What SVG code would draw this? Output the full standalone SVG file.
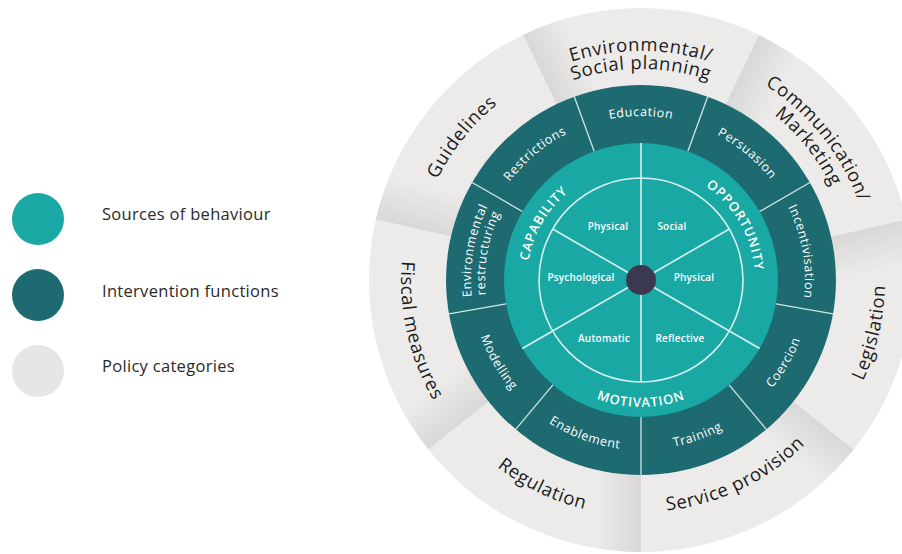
<svg xmlns="http://www.w3.org/2000/svg" xmlns:xlink="http://www.w3.org/1999/xlink" width="902" height="554" viewBox="0 0 902 554">
<style>
  .pol{font-family:"Open Sans","Liberation Sans",sans-serif;font-size:18.5px;font-weight:500;fill:#1c1c1c;letter-spacing:0.6px}
  .fn{font-family:"Open Sans","Liberation Sans",sans-serif;font-size:12.5px;font-weight:500;fill:#ffffff;letter-spacing:0.6px}
  .src{font-family:"Open Sans","Liberation Sans",sans-serif;font-size:13px;font-weight:600;fill:#ffffff;letter-spacing:0.9px}
  .sub{font-family:"Open Sans","Liberation Sans",sans-serif;font-size:10px;font-weight:600;fill:#ffffff;text-anchor:middle;letter-spacing:0.2px}
  .leg{font-family:"Open Sans","Liberation Sans",sans-serif;font-size:16.5px;font-weight:500;fill:#2a2a2a;letter-spacing:0.3px}
  .div{stroke:#cfe6e6;stroke-width:1.3;fill:none}
  .spk{stroke:#d8f0ef;stroke-width:1.6;fill:none}
</style>
<defs>
  <linearGradient id="shade" gradientUnits="userSpaceOnUse" x1="539.9" y1="70.1" x2="580" y2="50.8">
    <stop offset="0" stop-color="#d9d8d6"/>
    <stop offset="1" stop-color="#ecebe9"/>
  </linearGradient>
  <path id="pseg" d="M522.98,34.94 A272,272 0 0 1 759.02,34.94 L725.61,104.31 A195,195 0 0 0 556.39,104.31 Z" fill="url(#shade)"/>
  <path id="aEnv1" d="M465.58,132.8 A229,229 0 0 1 816.42,132.8"/>
  <path id="aEnv2" d="M479.37,144.37 A211,211 0 0 1 802.63,144.37"/>
  <path id="aCom1" d="M646.77,49.07 A231,231 0 0 1 867.42,325.77"/>
  <path id="aCom2" d="M646.29,68.07 A212,212 0 0 1 848.80,322.01"/>
  <path id="aGui" d="M418.5,324.98 A227,227 0 0 1 635.33,53.07"/>
  <path id="aLeg" d="M752.28,497.15 A244,244 0 0 0 835.51,132.68"/>
  <path id="aSer" d="M545.55,491.46 A232,232 0 0 0 865.82,337.26"/>
  <path id="aReg" d="M412.3,338.25 A236,236 0 0 0 738.09,495.1"/>
  <path id="aFis" d="M449.68,135.1 A240,240 0 0 0 531.54,493.59"/>
  <path id="aEdu" d="M546.93,145.66 A164,164 0 0 1 735.07,145.66"/>
  <path id="aPer" d="M655.29,116.62 A164,164 0 0 1 799.41,237.55"/>
  <path id="aInc" d="M756.97,164.03 A164,164 0 0 1 789.63,349.31"/>
  <path id="aRes" d="M482.59,237.55 A164,164 0 0 1 626.71,116.62"/>
  <path id="aEr1" d="M486.93,351.85 A170,170 0 0 1 520.79,159.79"/>
  <path id="aEr2" d="M499.62,345.93 A156,156 0 0 1 530.69,169.69"/>
  <path id="aCoe" d="M712.85,434.07 A170,170 0 0 0 810.35,265.18"/>
  <path id="aTra" d="M597.0,444.21 A170,170 0 0 0 780.26,377.51"/>
  <path id="aEna" d="M501.74,377.51 A170,170 0 0 0 685.0,444.21"/>
  <path id="aMod" d="M471.65,265.18 A170,170 0 0 0 569.15,434.07"/>
  <path id="aCap" d="M533.88,318.99 A114,114 0 0 1 621.2,167.73"/>
  <path id="aOpp" d="M660.8,167.73 A114,114 0 0 1 748.12,318.99"/>
  <path id="aMot" d="M531.01,343.5 A127,127 0 0 0 750.99,343.5"/>
</defs>
<rect width="902" height="554" fill="#ffffff"/>

<g id="legend-sources"><circle cx="38" cy="219" r="26" fill="#1aa8a4"/><text class="leg" x="102" y="220">Sources of behaviour</text></g>
<g id="legend-functions"><circle cx="38" cy="295" r="26" fill="#1e6a71"/><text class="leg" x="102" y="297">Intervention functions</text></g>
<g id="legend-policies"><circle cx="38" cy="371" r="26" fill="#e6e6e5"/><text class="leg" x="102" y="372">Policy categories</text></g>

<g id="policy-environmental-social-planning"><use xlink:href="#pseg" href="#pseg"/>
  <text class="pol"><textPath xlink:href="#aEnv1" href="#aEnv1" startOffset="50%" text-anchor="middle">Environmental/</textPath></text>
  <text class="pol"><textPath xlink:href="#aEnv2" href="#aEnv2" startOffset="50%" text-anchor="middle">Social planning</textPath></text></g>
<g id="policy-communication-marketing"><use xlink:href="#pseg" href="#pseg" transform="rotate(51.4286 641 280)"/>
  <text class="pol"><textPath xlink:href="#aCom1" href="#aCom1" startOffset="50%" text-anchor="middle">Communication/</textPath></text>
  <text class="pol"><textPath xlink:href="#aCom2" href="#aCom2" startOffset="50%" text-anchor="middle">Marketing</textPath></text></g>
<g id="policy-legislation"><use xlink:href="#pseg" href="#pseg" transform="rotate(102.8571 641 280)"/>
  <text class="pol"><textPath xlink:href="#aLeg" href="#aLeg" startOffset="50%" text-anchor="middle">Legislation</textPath></text></g>
<g id="policy-service-provision"><use xlink:href="#pseg" href="#pseg" transform="rotate(154.2857 641 280)"/>
  <text class="pol"><textPath xlink:href="#aSer" href="#aSer" startOffset="50%" text-anchor="middle">Service provision</textPath></text></g>
<g id="policy-regulation"><use xlink:href="#pseg" href="#pseg" transform="rotate(205.7143 641 280)"/>
  <text class="pol"><textPath xlink:href="#aReg" href="#aReg" startOffset="50%" text-anchor="middle">Regulation</textPath></text></g>
<g id="policy-fiscal-measures"><use xlink:href="#pseg" href="#pseg" transform="rotate(257.1429 641 280)"/>
  <text class="pol"><textPath xlink:href="#aFis" href="#aFis" startOffset="50%" text-anchor="middle">Fiscal measures</textPath></text></g>
<g id="policy-guidelines"><use xlink:href="#pseg" href="#pseg" transform="rotate(308.5714 641 280)"/>
  <text class="pol"><textPath xlink:href="#aGui" href="#aGui" startOffset="50%" text-anchor="middle">Guidelines</textPath></text></g>

<circle id="functions-ring" cx="641" cy="280" r="195" fill="#1e6a71"/>
<g id="fn-education"><text class="fn"><textPath xlink:href="#aEdu" href="#aEdu" startOffset="50%" text-anchor="middle">Education</textPath></text></g>
<g id="fn-persuasion"><text class="fn"><textPath xlink:href="#aPer" href="#aPer" startOffset="50%" text-anchor="middle">Persuasion</textPath></text></g>
<g id="fn-incentivisation"><text class="fn"><textPath xlink:href="#aInc" href="#aInc" startOffset="50%" text-anchor="middle">Incentivisation</textPath></text></g>
<g id="fn-coercion"><text class="fn"><textPath xlink:href="#aCoe" href="#aCoe" startOffset="50%" text-anchor="middle">Coercion</textPath></text></g>
<g id="fn-training"><text class="fn"><textPath xlink:href="#aTra" href="#aTra" startOffset="50%" text-anchor="middle">Training</textPath></text></g>
<g id="fn-enablement"><text class="fn"><textPath xlink:href="#aEna" href="#aEna" startOffset="50%" text-anchor="middle">Enablement</textPath></text></g>
<g id="fn-modelling"><text class="fn"><textPath xlink:href="#aMod" href="#aMod" startOffset="50%" text-anchor="middle">Modelling</textPath></text></g>
<g id="fn-environmental-restructuring">
  <text class="fn"><textPath xlink:href="#aEr1" href="#aEr1" startOffset="50%" text-anchor="middle">Environmental</textPath></text>
  <text class="fn"><textPath xlink:href="#aEr2" href="#aEr2" startOffset="50%" text-anchor="middle">restructuring</textPath></text></g>
<g id="fn-restrictions"><text class="fn"><textPath xlink:href="#aRes" href="#aRes" startOffset="50%" text-anchor="middle">Restrictions</textPath></text></g>

<circle id="sources-ring" cx="641" cy="280" r="137" fill="#1aa8a4"/>

<g id="connectors">
  <g class="div">
    <line x1="687.86" y1="151.26" x2="707.69" y2="96.76"/>
    <line x1="759.65" y1="211.5" x2="809.88" y2="182.5"/>
    <line x1="775.92" y1="303.79" x2="833.04" y2="313.86"/>
    <line x1="729.06" y1="384.95" x2="766.34" y2="429.38"/>
    <line x1="641" y1="417" x2="641" y2="475"/>
    <line x1="552.94" y1="384.95" x2="515.66" y2="429.38"/>
    <line x1="506.08" y1="303.79" x2="448.96" y2="313.86"/>
    <line x1="522.35" y1="211.5" x2="472.12" y2="182.5"/>
    <line x1="594.14" y1="151.26" x2="574.31" y2="96.76"/>
  </g>
  <g class="spk">
    <circle cx="641" cy="280" r="102"/>
    <line x1="641" y1="280" x2="641" y2="143"/>
    <line x1="641" y1="280" x2="759.65" y2="348.5"/>
    <line x1="641" y1="280" x2="522.35" y2="348.5"/>
    <line x1="641" y1="280" x2="729.34" y2="229"/>
    <line x1="641" y1="280" x2="641" y2="382"/>
    <line x1="641" y1="280" x2="552.66" y2="229"/>
  </g>
</g>

<g id="src-capability">
  <text class="src"><textPath xlink:href="#aCap" href="#aCap" startOffset="50%" text-anchor="middle">CAPABILITY</textPath></text>
  <text class="sub" x="608" y="230">Physical</text>
  <text class="sub" x="581" y="281">Psychological</text>
</g>
<g id="src-opportunity">
  <text class="src"><textPath xlink:href="#aOpp" href="#aOpp" startOffset="50%" text-anchor="middle">OPPORTUNITY</textPath></text>
  <text class="sub" x="672" y="230">Social</text>
  <text class="sub" x="694" y="281">Physical</text>
</g>
<g id="src-motivation">
  <text class="src"><textPath xlink:href="#aMot" href="#aMot" startOffset="50%" text-anchor="middle">MOTIVATION</textPath></text>
  <text class="sub" x="604" y="342">Automatic</text>
  <text class="sub" x="680" y="342">Reflective</text>
</g>
<g id="center"><circle cx="641" cy="280" r="15" fill="#3b3852"/></g>
</svg>
